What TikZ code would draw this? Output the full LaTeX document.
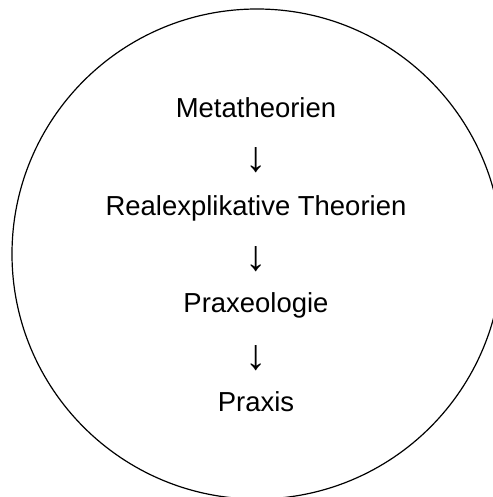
\documentclass[tikz,border=0pt]{standalone}
\usepackage{fontspec}
\setmainfont{Liberation Sans}
\usepackage{tikz}
\usetikzlibrary{positioning}

\begin{document}
\begin{tikzpicture}[
    x=0.75pt, y=-0.75pt,
    % Styles
    rim/.style={draw=black, line width=0.9pt},
    level/.style={inner sep=0pt, anchor=base, font=\fontsize{20.6}{24}\selectfont},
    down/.style={inner sep=0pt, anchor=base, font=\fontsize{32}{36}\selectfont}
]
    \useasboundingbox (0,0) rectangle (493,497);
    \clip (0,0) rectangle (493,497);

    % =========================================================================
    % CIRCLE
    % =========================================================================
    \draw[rim] (257,254) circle[radius=245];

    % =========================================================================
    % LEVELS
    % =========================================================================
    \node (meta)  [level] at (256,117) {Metatheorien};
    \node (arr1)  [down]  at (256.5,171) {↓};
    \node (real)  [level] at (256,215) {Realexplikative Theorien};
    \node (arr2)  [down]  at (256.5,270) {↓};
    \node (praxeo)[level] at (256,312) {Praxeologie};
    \node (arr3)  [down]  at (256.5,369) {↓};
    \node (praxis)[level] at (256,411) {Praxis};

\end{tikzpicture}
\end{document}
